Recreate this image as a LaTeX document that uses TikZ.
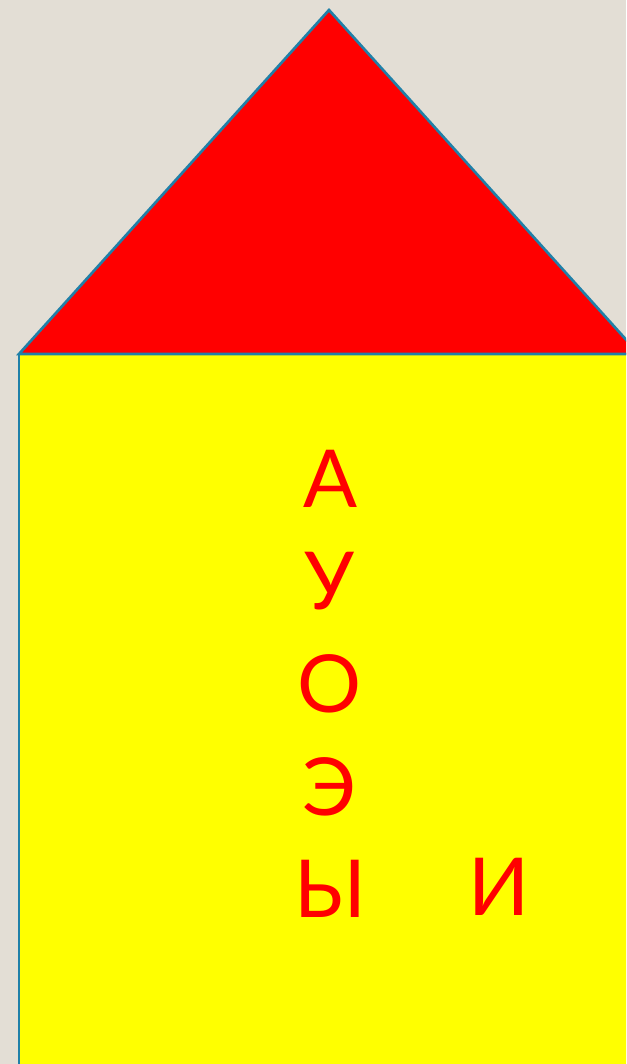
\documentclass[tikz,border=0pt]{standalone}
\usepackage{fontspec}
\setmainfont{Lato}
\usepackage{xcolor}
\definecolor{wallbg}{RGB}{227,222,213}
\definecolor{edgeblue}{RGB}{32,128,168}
\begin{document}
\begin{tikzpicture}[x=0.75pt,y=0.75pt,yscale=-1,xscale=1]
\tikzset{letter/.style={anchor=base,inner sep=0pt,text=red,font=\fontsize{60}{60}\selectfont}}
%Shape: background
\fill [wallbg] (0,0) rectangle (626,1064) ;
\clip (0,0) rectangle (626,1064) ;
%Shape: Rectangle (wall)
\draw [color=edgeblue ,line width=2pt ][fill={rgb, 255:red, 255; green, 255; blue, 0 }] (19,354) -- (640,354) -- (640,1080) -- (19,1080) -- cycle ;
%Shape: Triangle (roof)
\draw [color=edgeblue ,line width=2pt ,line join=miter][fill={rgb, 255:red, 255; green, 0; blue, 0 }] (19,354) -- (329,10) -- (639,354) -- cycle ;

% Text Node
\node (a) [letter] at (330,507) {А};
% Text Node
\node (u) [letter] at (330,609) {У};
% Text Node
\node (o) [letter] at (330,712) {О};
% Text Node
\node (e) [letter] at (330,815) {Э};
% Text Node
\node (y) [letter] at (330,917) {Ы};
% Text Node
\node (i) [letter] at (499,915) {И};

\end{tikzpicture}
\end{document}
